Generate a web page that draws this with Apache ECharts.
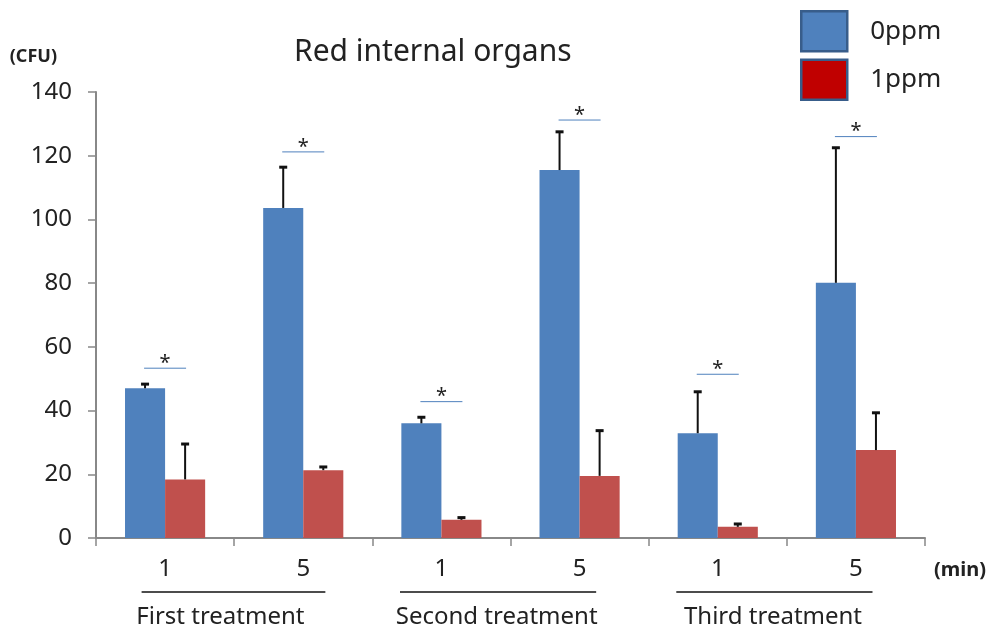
<!DOCTYPE html>
<html>
<head>
<meta charset="utf-8">
<script src="https://cdn.jsdelivr.net/npm/echarts@6/dist/echarts.min.js"></script>
<style>
  html, body { margin: 0; padding: 0; background: #fff; }
  #chart { width: 992px; height: 634px; }
</style>
</head>
<body>
<div id="chart"></div>
<script>
// Exposure time (min) within each treatment round
const categories = ['1', '5', '1', '5', '1', '5'];
const groups = ['First treatment', 'Second treatment', 'Third treatment'];
const groupSize = 2;

// Mean CFU and standard deviation per concentration
const mean0ppm = [47.0, 103.6, 36.0, 115.5, 32.9, 80.1];
const sd0ppm   = [1.3, 12.8, 1.9, 12.0, 13.0, 42.4];
const mean1ppm = [18.4, 21.3, 5.7, 19.5, 3.5, 27.6];
const sd1ppm   = [11.1, 1.0, 0.7, 14.2, 0.9, 11.7];

// Height of each significance bracket (in CFU)
const sigLevel = [53.3, 121.2, 42.8, 131.2, 51.4, 126.0];

const yMin = 0, yMax = 140, yStep = 20;

const FONT = 'Noto Sans, Open Sans, sans-serif';
const BLUE = '#4f81bd';
const RED = '#c0504d';
const BAR_SHIFT = 0.145;   // bar centre offset, in category widths

function errorBars(name, means, sds, side) {
  return {
    type: 'custom',
    name: name,
    z: 5,
    silent: true,
    data: means.map((m, i) => [i, m, m + sds[i]]),
    encode: { x: 0, y: [1, 2] },
    renderItem(params, api) {
      const cw = api.size([1, 0])[0];
      const lo = api.coord([api.value(0), api.value(1)]);
      const hi = api.coord([api.value(0), api.value(2)]);
      const x = lo[0] + side * cw * BAR_SHIFT;
      const cap = 4;
      return {
        type: 'group',
        children: [
          { type: 'line', shape: { x1: x, y1: lo[1], x2: x, y2: hi[1] },
            style: { stroke: '#111', lineWidth: 2 } },
          { type: 'line', shape: { x1: x - cap, y1: hi[1], x2: x + cap, y2: hi[1] },
            style: { stroke: '#111', lineWidth: 3 } }
        ]
      };
    }
  };
}

const chart = echarts.init(document.getElementById('chart'), null, { renderer: 'canvas' });

chart.setOption({
  animation: false,
  backgroundColor: '#fff',
  title: {
    text: 'Red internal organs',
    left: 289,
    top: 32,
    textStyle: { fontFamily: FONT, fontSize: 30, fontWeight: 'normal', color: '#222' }
  },
  legend: {
    orient: 'vertical',
    left: 800,
    top: 10,
    padding: 0,
    itemWidth: 46,
    itemHeight: 40,
    itemGap: 6,
    icon: 'rect',
    textStyle: { fontFamily: FONT, fontSize: 26, color: '#222', padding: [0, 0, 0, 18] },
    data: [
      { name: '0ppm', itemStyle: { color: BLUE, borderColor: '#385d8a', borderWidth: 2.5 } },
      { name: '1ppm', itemStyle: { color: '#c00000', borderColor: '#385d8a', borderWidth: 2.5 } }
    ]
  },
  grid: { left: 96, right: 67, top: 92, bottom: 96 },
  xAxis: {
    type: 'category',
    data: categories,
    boundaryGap: true,
    name: '(min)',
    nameLocation: 'end',
    nameGap: 9,
    nameTextStyle: { fontFamily: FONT, fontSize: 20, fontWeight: 'bold', color: '#222',
                     verticalAlign: 'top', padding: [22, 0, 0, 0] },
    axisLine: { lineStyle: { color: '#888', width: 2 } },
    axisTick: { show: true, length: 8, lineStyle: { color: '#888', width: 1.5 } },
    axisLabel: { fontFamily: FONT, fontSize: 24, color: '#222', margin: 19 }
  },
  yAxis: {
    type: 'value',
    min: yMin,
    max: yMax,
    interval: yStep,
    name: '(CFU)',
    nameLocation: 'end',
    nameGap: 26,
    nameTextStyle: { fontFamily: FONT, fontSize: 18, fontWeight: 'bold', color: '#222',
                     align: 'right', padding: [0, 39, 0, 0] },
    splitLine: { show: false },
    axisLine: { show: true, lineStyle: { color: '#888', width: 2 } },
    axisTick: { show: true, length: 8, lineStyle: { color: '#888', width: 1.5 } },
    axisLabel: { fontFamily: FONT, fontSize: 24, color: '#222', margin: 24 }
  },
  series: [
    {
      name: '0ppm', type: 'bar', data: mean0ppm,
      barWidth: '29%', barGap: '0%',
      itemStyle: { color: BLUE }
    },
    {
      name: '1ppm', type: 'bar', data: mean1ppm,
      barWidth: '29%', barGap: '0%',
      itemStyle: { color: RED }
    },
    errorBars('0ppm SD', mean0ppm, sd0ppm, -1),
    errorBars('1ppm SD', mean1ppm, sd1ppm, 1),
    {
      type: 'custom',
      name: 'significance',
      z: 6,
      silent: true,
      data: sigLevel.map((v, i) => [i, v]),
      encode: { x: 0, y: 1 },
      renderItem(params, api) {
        const cw = api.size([1, 0])[0];
        const p = api.coord([api.value(0), api.value(1)]);
        const hw = cw * 0.152;
        return {
          type: 'group',
          children: [
            { type: 'line', shape: { x1: p[0] - hw, y1: p[1], x2: p[0] + hw, y2: p[1] },
              style: { stroke: BLUE, lineWidth: 1 } },
            { type: 'text', style: { text: '*', x: p[0], y: p[1] - 5, align: 'center',
              verticalAlign: 'middle', font: '20px ' + FONT, fill: '#222' } }
          ]
        };
      }
    }
  ]
});

// Treatment brackets under the time labels, placed from the axis scale
(function drawGroups() {
  const x0 = chart.convertToPixel({ xAxisIndex: 0 }, 0);
  const x1 = chart.convertToPixel({ xAxisIndex: 0 }, 1);
  const cw = x1 - x0;
  const base = chart.convertToPixel({ yAxisIndex: 0 }, 0);
  const elements = [];
  groups.forEach((g, gi) => {
    const first = chart.convertToPixel({ xAxisIndex: 0 }, gi * groupSize);
    const last = chart.convertToPixel({ xAxisIndex: 0 }, gi * groupSize + groupSize - 1);
    const left = first - cw * (gi === 0 ? 0.17 : 0.3);
    const right = last + cw * (gi === 0 ? 0.16 : 0.12);
    elements.push({
      type: 'line',
      shape: { x1: left, y1: base + 54, x2: right, y2: base + 54 },
      style: { stroke: '#111', lineWidth: 1.5 }
    });
    elements.push({
      type: 'text',
      x: (first + last) / 2 - cw * 0.1,
      y: base + 79,
      style: { text: g, align: 'center', verticalAlign: 'middle',
               font: '24px ' + FONT, fill: '#222' }
    });
  });
  chart.setOption({ graphic: elements });
})();
</script>
</body>
</html>
